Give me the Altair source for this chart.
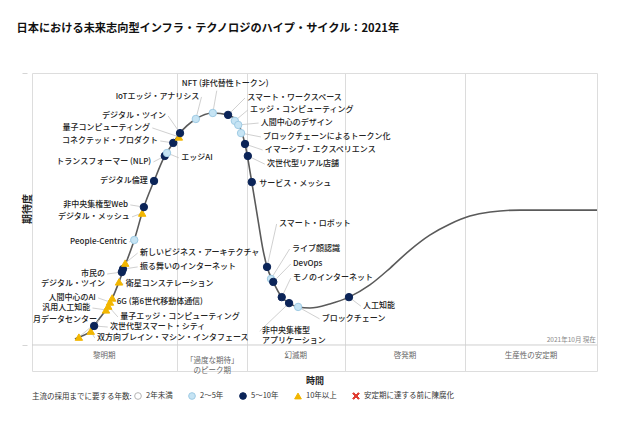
import altair as alt
import pandas as pd

TITLE = "日本における未来志向型インフラ・テクノロジのハイプ・サイクル：2021年"
FONT = "Noto Sans CJK JP"

# Hype curve (time 0-100, expectation 0-100)
curve_t = [7.6, 8.3, 10.4, 11.0, 12.0, 13.3, 14.3, 15.4, 16.3, 18.1, 19.8, 21.6, 23.5, 25.0,
           26.2, 29.0, 32.0, 34.7, 36.5, 37.7, 38.9, 40.0, 40.9, 41.6, 42.7, 44.2, 45.5, 47.1,
           49.2, 52.7, 56.1, 59.8, 63.4, 66.9, 70.4, 74.0, 77.5, 81.1, 86.4, 93.5, 100.0]
curve_e = [2.2, 2.9, 5.1, 7.0, 9.9, 13.6, 17.6, 23.2, 28.3, 38.6, 50.7, 60.3, 69.5, 74.3,
           77.9, 83.1, 85.3, 84.6, 81.3, 73.9, 59.9, 46.0, 34.9, 28.7, 23.2, 17.6, 15.4, 14.0,
           13.6, 15.1, 17.6, 22.1, 28.3, 34.9, 40.4, 44.5, 47.4, 48.9, 49.6, 49.6, 49.6]

# Technologies
tech_names = ["月データセンター", "双方向ブレイン・マシン・インタフェース", "次世代型スマート・シティ",
              "汎用人工知能", "量子エッジ・コンピューティング", "人間中心のAI", "6G (第6世代移動体通信)",
              "衛星コンステレーション", "市民の\nデジタル・ツイン", "振る舞いのインターネット",
              "新しいビジネス・アーキテクチャ", "People-Centric", "デジタル・メッシュ", "非中央集権型Web",
              "デジタル倫理", "トランスフォーマー (NLP)", "エッジAI", "コネクテッド・プロダクト",
              "量子コンピューティング", "デジタル・ツイン", "IoTエッジ・アナリシス", "NFT (非代替性トークン)",
              "スマート・ワークスペース", "エッジ・コンピューティング", "人間中心のデザイン",
              "ブロックチェーンによるトークン化", "イマーシブ・エクスペリエンス", "次世代型リアル店舗",
              "サービス・メッシュ", "スマート・ロボット", "ライブ顔認識", "DevOps", "モノのインターネット",
              "非中央集権型\nアプリケーション", "ブロックチェーン", "人工知能"]
tech_t = [8.3, 10.4, 11.0, 13.1, 13.5, 13.8, 14.2, 15.4, 15.9, 16.1, 16.5, 18.1, 19.5, 19.8,
          21.6, 23.5, 23.9, 25.0, 26.0, 26.2, 29.0, 32.0, 34.7, 35.9, 36.5, 37.0, 37.7, 38.2,
          38.9, 41.6, 42.3, 42.7, 44.2, 45.5, 47.1, 56.1]
tech_e = [2.9, 5.1, 7.0, 12.9, 14.3, 15.8, 17.3, 23.2, 26.8, 27.9, 30.1, 38.6, 48.5, 50.7,
          60.3, 69.5, 70.6, 74.3, 76.5, 77.9, 83.1, 85.3, 84.6, 82.4, 80.9, 77.9, 73.9, 69.5,
          59.9, 28.7, 24.3, 23.2, 17.6, 15.4, 14.0, 17.6]
tech_cat = ["10年以上", "10年以上", "5～10年", "10年以上", "10年以上", "10年以上", "10年以上",
            "10年以上", "5～10年", "5～10年", "10年以上", "2～5年", "10年以上", "5～10年",
            "5～10年", "5～10年", "2～5年", "5～10年", "10年以上", "5～10年", "2～5年", "2～5年",
            "5～10年", "2～5年", "2～5年", "2～5年", "5～10年", "5～10年",
            "5～10年", "5～10年", "2～5年", "5～10年", "5～10年", "5～10年", "2～5年", "5～10年"]

# Label placement (annotation positions)
label_t = [11.5, 11.5, 13.8, 10.3, 15.6, 11.3, 15.0, 16.6, 12.9, 19.1, 19.1, 16.8, 17.3, 17.0,
           20.5, 21.1, 26.4, 22.3, 20.9, 23.7, 29.6, 34.2, 38.1, 38.6, 40.5, 40.9, 41.2, 41.6,
           40.2, 43.7, 46.0, 46.2, 46.2, 40.7, 51.3, 58.6]
label_e = [9.2, 2.6, 6.6, 13.6, 10.3, 17.3, 15.8, 22.4, 26.1, 28.7, 33.8, 37.9, 47.1, 51.5,
           60.3, 67.3, 68.8, 75.0, 79.8, 84.2, 91.2, 96.0, 90.8, 86.4, 81.6, 76.5, 71.7, 66.5,
           59.2, 44.5, 35.3, 29.8, 24.6, 5.1, 9.6, 14.3]
label_align = ["right", "left", "left", "right", "left", "right", "left", "left", "right", "left",
               "left", "right", "right", "right", "right", "right", "left", "right", "right", "right",
               "right", "center", "left", "left", "left", "left", "left", "left",
               "left", "left", "left", "left", "left", "left", "left", "left"]

categories = ["2年未満", "2～5年", "5～10年", "10年以上", "安定期に達する前に陳腐化"]
cat_fill = ["#ffffff", "#c6e4f4", "#0b2458", "#f2b600", "#e03c31"]
cat_stroke = ["#b5b5b5", "#9fcbe4", "#0b2458", "#f2b600", "#e03c31"]
X_PATH = ("M-0.7,-1L0,-0.3L0.7,-1L1,-0.7L0.3,0L1,0.7L0.7,1L0,0.3L-0.7,1L-1,0.7L-0.3,0L-1,-0.7Z")
cat_shape = ["circle", "circle", "circle", "triangle-up", X_PATH]

phase_names = ["黎明期", "「過度な期待」\nのピーク期", "幻滅期", "啓発期", "生産性の安定期"]
phase_t = [12.8, 31.9, 46.7, 66.0, 88.3]
phase_e = [-4.0, -5.9, -4.0, -4.0, -4.0]
dividers = [25.7, 38.1, 55.4, 76.6]

# ---- tables
curve_df = pd.DataFrame({"t": curve_t, "e": curve_e})
tech_df = pd.DataFrame({"name": tech_names, "t": tech_t, "e": tech_e, "cat": tech_cat,
                        "lt": label_t, "le": label_e, "align": label_align})
lead_start_t = []
lead_start_e = []
for lt, le, al in zip(label_t, label_e, label_align):
    if al == "right":
        lead_start_t.append(lt + 0.4); lead_start_e.append(le)
    elif al == "left":
        lead_start_t.append(lt - 0.4); lead_start_e.append(le)
    else:
        lead_start_t.append(lt - 1.5); lead_start_e.append(le - 2.5)
tech_df["st"] = lead_start_t
tech_df["se"] = lead_start_e
phase_df = pd.DataFrame({"name": phase_names, "t": phase_t, "e": phase_e})

xs = alt.Scale(domain=[0, 100], nice=False, zero=False)
ys = alt.Scale(domain=[-9.56, 100], nice=False, zero=False)
x_axis = alt.Axis(values=dividers, grid=True, gridColor="#dcdcdc", gridWidth=1, ticks=False,
                  labels=False, domain=False, title="時間", titleFontSize=9, titleFontWeight="bold",
                  titleColor="#222", titlePadding=5, titleFont=FONT)
y_axis = alt.Axis(values=[0, 100], grid=False, ticks=True, tickSize=5, tickColor="#d5d5d5",
                  offset=5, labels=False, domain=False, title=None)

def X(f="t"):
    return alt.X(f, type="quantitative", scale=xs, axis=x_axis)

def Y(f="e"):
    return alt.Y(f, type="quantitative", scale=ys, axis=y_axis)

LEG_TITLE = "主流の採用までに要する年数:"
legend = alt.Legend(
    title=LEG_TITLE, orient="none", legendX=0, legendY=319, direction="horizontal",
    titleOrient="left", titleFontSize=7.5, titleFontWeight="normal", titleFont=FONT,
    titleColor="#333", labelFontSize=7.5, labelFont=FONT, labelColor="#333", symbolSize=45,
    symbolStrokeWidth=1, columnPadding=13, titlePadding=2, labelOffset=4, titleBaseline="middle",
    titleAnchor="middle", gridAlign="none",
    labelExpr="datum.label == '2年未満' ? datum.label + '\u2002' : datum.label")

band_line = alt.Chart(pd.DataFrame({"e": [0]})).mark_rule(color="#cfcfcf", strokeWidth=1).encode(y=Y())

curve = alt.Chart(curve_df).mark_line(color="#5a5a5a", strokeWidth=1.6, interpolate="monotone").encode(
    x=X(), y=Y(), order="t:Q")

leaders = alt.Chart(tech_df).mark_rule(color="#c4c4c4", strokeWidth=0.8).encode(
    x=X("st"), y=Y("se"), x2="t:Q", y2="e:Q")

markers = alt.Chart(tech_df).mark_point(filled=True, size=55, strokeWidth=1, opacity=1).encode(
    x=X(), y=Y(),
    fill=alt.Fill("cat:N", scale=alt.Scale(domain=categories, range=cat_fill), legend=legend),
    stroke=alt.Stroke("cat:N", scale=alt.Scale(domain=categories, range=cat_stroke), legend=legend),
    shape=alt.Shape("cat:N", scale=alt.Scale(domain=categories, range=cat_shape), legend=legend),
)

def labels(al):
    return alt.Chart(tech_df).transform_filter(alt.datum.align == al).mark_text(
        align=al, baseline="middle", fontSize=8, font=FONT, fontWeight=500, color="#222",
        lineBreak="\n", lineHeight=9.5).encode(x=X("lt"), y=Y("le"), text="name:N")

phase_text = alt.Chart(phase_df).mark_text(
    align="center", baseline="middle", fontSize=7.5, font=FONT, color="#666", lineBreak="\n",
    lineHeight=10).encode(x=X(), y=Y(), text="name:N")

note = alt.Chart(pd.DataFrame({"t": [99.8], "e": [1.8], "s": ["2021年10月 現在"]})).mark_text(
    align="right", baseline="middle", fontSize=6.5, font=FONT, color="#888").encode(
    x=X(), y=Y(), text="s:N")

ytitle = alt.Chart(pd.DataFrame({"s": ["期待度"]})).mark_text(
    angle=270, align="center", baseline="middle", fontSize=10, font=FONT, fontWeight="bold",
    color="#222").encode(x=alt.value(-4), y=alt.value(136), text="s:N")

chart = alt.layer(
    band_line, curve, leaders, markers, labels("right"), labels("left"), labels("center"),
    phase_text, note, ytitle
).properties(
    width=565, height=298,
    title=alt.TitleParams(TITLE, anchor="start", dx=-5, offset=38, fontSize=11.2,
                          fontWeight="bold", font=FONT, color="#111"),
    autosize=alt.AutoSizeParams(type="none"),
    padding={"left": 24, "top": 65, "right": 8, "bottom": 45},
).configure_view(
    stroke="#cccccc", strokeWidth=1
).configure(font=FONT)

chart.save("out.html", embed_options={"renderer": "svg", "actions": False})
